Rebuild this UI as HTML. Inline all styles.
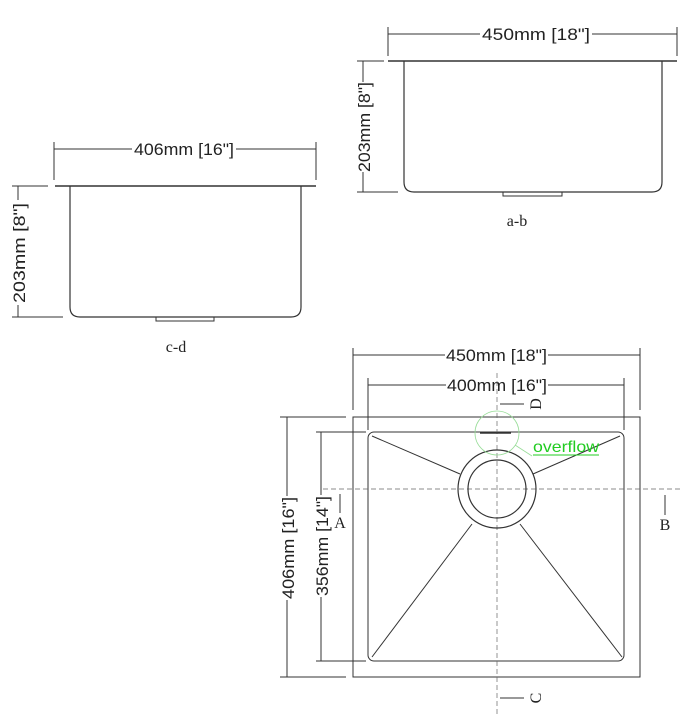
<!DOCTYPE html>
<html><head><meta charset="utf-8"><style>
html,body{margin:0;padding:0;background:#fff}
svg{display:block}
text{font-family:"Liberation Sans",sans-serif;font-size:17px;fill:#222}
.s{font-family:"Liberation Serif",serif;font-size:16px}
</style></head><body>
<svg width="684" height="721" viewBox="0 0 684 721" fill="none" stroke="#333" stroke-width="1">
<!-- a-b view -->
<line x1="388" y1="27" x2="388" y2="56"/>
<line x1="677" y1="27" x2="677" y2="56"/>
<line x1="388" y1="34" x2="480" y2="34"/>
<line x1="592" y1="34" x2="677" y2="34"/>
<text x="482" y="40" textLength="108" lengthAdjust="spacingAndGlyphs" stroke="none">450mm [18"]</text>
<line x1="388" y1="61" x2="677" y2="61" stroke-width="1.4"/>
<path d="M404 61 V182 Q404 192 414 192 H652 Q662 192 662 182 V61" stroke-width="1.2"/>
<path d="M503 192 V196 H562 V192"/>
<line x1="357" y1="61" x2="384" y2="61"/>
<line x1="357" y1="192" x2="398" y2="192"/>
<line x1="363" y1="61" x2="363" y2="82"/>
<line x1="363" y1="172" x2="363" y2="192"/>
<text transform="translate(370,172) rotate(-90)" textLength="90" lengthAdjust="spacingAndGlyphs" stroke="none">203mm [8"]</text>
<text class="s" x="517" y="226" text-anchor="middle" stroke="none">a-b</text>
<!-- c-d view -->
<line x1="54" y1="142" x2="54" y2="180"/>
<line x1="316" y1="142" x2="316" y2="180"/>
<line x1="54" y1="149" x2="132" y2="149"/>
<line x1="236" y1="149" x2="316" y2="149"/>
<text x="134" y="155" textLength="100" lengthAdjust="spacingAndGlyphs" stroke="none">406mm [16"]</text>
<line x1="55" y1="186" x2="316" y2="186" stroke-width="1.4"/>
<path d="M70 186 V307 Q70 317 80 317 H291 Q301 317 301 307 V186" stroke-width="1.2"/>
<path d="M156 317 V321 H214 V317"/>
<line x1="12" y1="186" x2="48" y2="186"/>
<line x1="12" y1="317" x2="63" y2="317"/>
<line x1="18" y1="186" x2="18" y2="200"/>
<line x1="18" y1="305" x2="18" y2="317"/>
<text transform="translate(25,303) rotate(-90)" textLength="100" lengthAdjust="spacingAndGlyphs" stroke="none">203mm [8"]</text>
<text class="s" x="176" y="352" text-anchor="middle" stroke="none">c-d</text>
<!-- plan view -->
<line x1="353" y1="348" x2="353" y2="410"/>
<line x1="640" y1="348" x2="640" y2="410"/>
<line x1="353" y1="355" x2="445" y2="355"/>
<line x1="548" y1="355" x2="640" y2="355"/>
<text x="446" y="361" textLength="101" lengthAdjust="spacingAndGlyphs" stroke="none">450mm [18"]</text>
<line x1="368" y1="378" x2="368" y2="430"/>
<line x1="624" y1="378" x2="624" y2="430"/>
<line x1="368" y1="385" x2="446" y2="385"/>
<line x1="548" y1="385" x2="624" y2="385"/>
<text x="447" y="391" textLength="100" lengthAdjust="spacingAndGlyphs" stroke="none">400mm [16"]</text>
<rect x="353" y="417" width="287" height="260"/>
<rect x="368" y="432" width="256" height="229" rx="6"/>
<line x1="280" y1="417" x2="346" y2="417"/>
<line x1="280" y1="677" x2="346" y2="677"/>
<line x1="287" y1="417" x2="287" y2="496"/>
<line x1="287" y1="600" x2="287" y2="677"/>
<text transform="translate(294,599) rotate(-90)" textLength="102" lengthAdjust="spacingAndGlyphs" stroke="none">406mm [16"]</text>
<line x1="316" y1="432" x2="366" y2="432"/>
<line x1="316" y1="661" x2="366" y2="661"/>
<line x1="321" y1="432" x2="321" y2="495"/>
<line x1="321" y1="597" x2="321" y2="661"/>
<text transform="translate(328,596) rotate(-90)" textLength="100" lengthAdjust="spacingAndGlyphs" stroke="none">356mm [14"]</text>
<line x1="497" y1="373" x2="497" y2="715" stroke-dasharray="5 3" stroke="#666" stroke-width="0.7"/>
<line x1="323" y1="489" x2="680" y2="489" stroke-dasharray="5 3" stroke="#666" stroke-width="0.7"/>
<line x1="372" y1="436" x2="460" y2="474"/>
<line x1="620" y1="436" x2="533" y2="474"/>
<line x1="372" y1="657" x2="472" y2="524"/>
<line x1="622" y1="657" x2="520" y2="524"/>
<circle cx="497" cy="489" r="39" stroke-width="1.2"/>
<circle cx="497" cy="489" r="29" stroke-width="1.2"/>
<circle cx="497" cy="433" r="22" stroke="#9d9" stroke-width="0.8"/>
<line x1="480" y1="433" x2="511" y2="433" stroke-width="1.4"/>
<line x1="515" y1="445" x2="532" y2="456" stroke="#9d9" stroke-width="0.8"/>
<text x="533" y="452" textLength="66" lengthAdjust="spacingAndGlyphs" stroke="none" style="fill:#2c2;font-size:16px">overflow</text>
<line x1="533" y1="455" x2="599" y2="455" stroke="#2c2"/>
<line x1="500" y1="404" x2="524" y2="404"/>
<text class="s" transform="translate(541,404) rotate(-90)" text-anchor="middle" stroke="none">D</text>
<line x1="500" y1="698" x2="524" y2="698"/>
<text class="s" transform="translate(541,698) rotate(-90)" text-anchor="middle" stroke="none">C</text>
<line x1="340" y1="494" x2="340" y2="513"/>
<text class="s" x="340" y="528" text-anchor="middle" stroke="none">A</text>
<line x1="665" y1="495" x2="665" y2="515"/>
<text class="s" x="665" y="530" text-anchor="middle" stroke="none">B</text>
</svg>
</body></html>
